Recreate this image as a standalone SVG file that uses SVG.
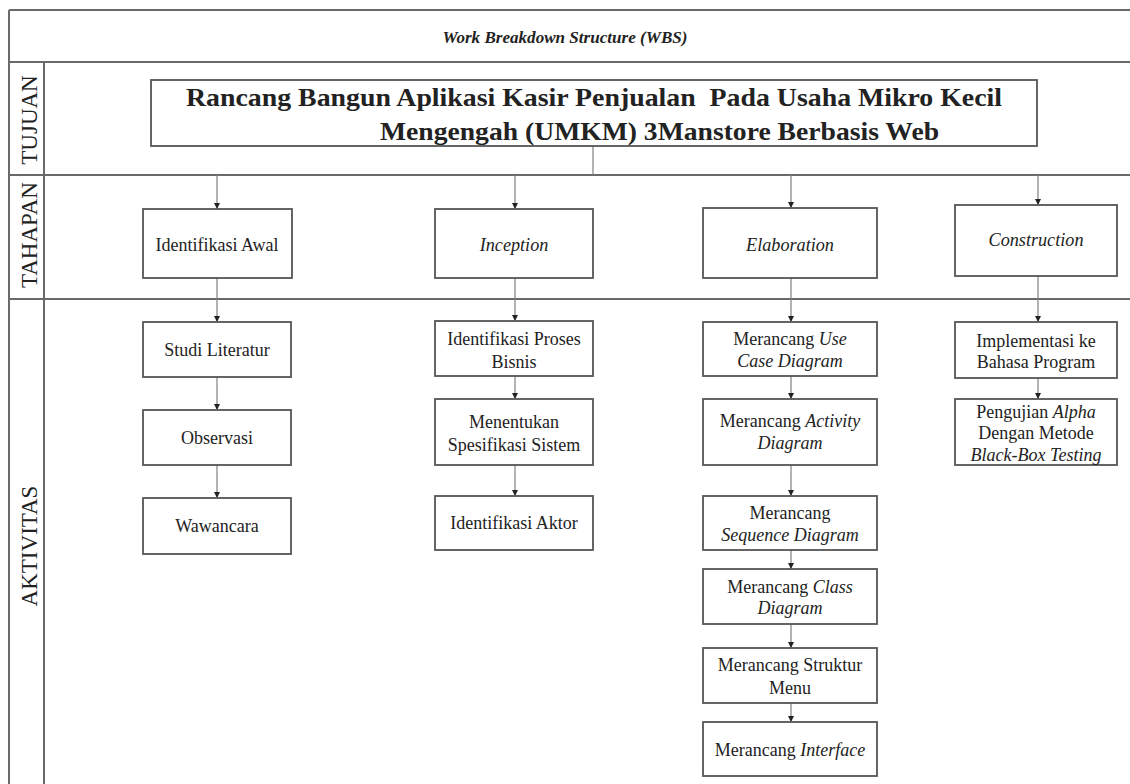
<svg xmlns="http://www.w3.org/2000/svg" width="1130" height="784" viewBox="0 0 1130 784">
<defs>
<marker id="ah" viewBox="0 0 10 10" refX="10" refY="5" markerWidth="6" markerHeight="6" markerUnits="userSpaceOnUse" orient="auto">
<path d="M0,0 L10,5 L0,10 z" fill="#222"/>
</marker>
<style>
.frame{stroke:#6a6a6a;stroke-width:2;fill:none}
.box{fill:#fff;stroke:#555;stroke-width:1.8}
.con{stroke:#808080;stroke-width:1.2;fill:none}
.arr{stroke:#808080;stroke-width:1.2;fill:none;marker-end:url(#ah)}
text{font-family:"Liberation Serif","Times New Roman",serif;fill:#222}
.lbl{font-size:18px;text-anchor:middle}
.ph{font-size:18.2px;text-anchor:middle;font-style:italic}
.lane{font-size:23px;text-anchor:middle}
.it{font-style:italic}
</style>
</defs>
<rect width="1130" height="784" fill="#fff"/>
<g id="frame">
<line class="frame" x1="9" y1="10" x2="1130" y2="10"/>
<line class="frame" x1="9" y1="10" x2="9" y2="784"/>
<line class="frame" x1="9" y1="62" x2="1130" y2="62"/>
<line class="frame" x1="9" y1="175" x2="1130" y2="175"/>
<line class="frame" x1="9" y1="299" x2="1130" y2="299"/>
<line class="frame" x1="44" y1="62" x2="44" y2="784"/>
<text x="565" y="43" text-anchor="middle" font-size="16" font-weight="bold" font-style="italic" textLength="245" lengthAdjust="spacingAndGlyphs">Work Breakdown Structure (WBS)</text>
<text class="lane" transform="translate(36.5,120) rotate(-90)">TUJUAN</text>
<text class="lane" transform="translate(36.5,235) rotate(-90)">TAHAPAN</text>
<text class="lane" transform="translate(36.5,546) rotate(-90)">AKTIVITAS</text>
</g>
<g id="connectors">
<line class="con" x1="593" y1="146" x2="593" y2="175"/>
<line class="arr" x1="217" y1="175" x2="217" y2="209"/>
<line class="arr" x1="515" y1="175" x2="515" y2="209"/>
<line class="arr" x1="791" y1="175" x2="791" y2="208"/>
<line class="arr" x1="1038" y1="175" x2="1038" y2="205"/>
<line class="arr" x1="217" y1="278" x2="217" y2="322"/>
<line class="arr" x1="217" y1="377" x2="217" y2="410"/>
<line class="arr" x1="217" y1="465" x2="217" y2="498"/>
<line class="arr" x1="515" y1="278" x2="515" y2="321"/>
<line class="arr" x1="515" y1="376" x2="515" y2="399"/>
<line class="arr" x1="515" y1="465" x2="515" y2="496"/>
<line class="arr" x1="791" y1="278" x2="791" y2="322"/>
<line class="arr" x1="791" y1="376" x2="791" y2="399"/>
<line class="arr" x1="791" y1="465" x2="791" y2="496"/>
<line class="arr" x1="791" y1="550" x2="791" y2="569"/>
<line class="arr" x1="791" y1="624" x2="791" y2="648"/>
<line class="arr" x1="791" y1="703" x2="791" y2="722"/>
<line class="arr" x1="1038" y1="276" x2="1038" y2="322"/>
<line class="arr" x1="1038" y1="378" x2="1038" y2="399"/>
</g>
<g id="goal">
<rect class="box" x="151" y="80" width="886" height="66"/>
<text x="186" y="106" font-size="25" font-weight="bold" textLength="816" lengthAdjust="spacingAndGlyphs" xml:space="preserve">Rancang Bangun Aplikasi Kasir Penjualan  Pada Usaha Mikro Kecil</text>
<text x="380" y="140" font-size="25" font-weight="bold" textLength="559" lengthAdjust="spacingAndGlyphs">Mengengah (UMKM) 3Manstore Berbasis Web</text>
</g>
<g id="ph-awal"><rect class="box" x="143" y="209" width="149" height="69"/><text class="lbl" x="217" y="251">Identifikasi Awal</text></g>
<g id="ph-inception"><rect class="box" x="435" y="209" width="158" height="69"/><text class="ph" x="514" y="251">Inception</text></g>
<g id="ph-elaboration"><rect class="box" x="703" y="208" width="174" height="70"/><text class="ph" x="790" y="251">Elaboration</text></g>
<g id="ph-construction"><rect class="box" x="955" y="205" width="162" height="71"/><text class="ph" x="1036" y="246" font-size="14.2">Construction</text></g>

<g id="a-studi"><rect class="box" x="143" y="322" width="148" height="55"/><text class="lbl" x="217" y="356">Studi Literatur</text></g>
<g id="a-observasi"><rect class="box" x="143" y="410" width="148" height="55"/><text class="lbl" x="217" y="444">Observasi</text></g>
<g id="a-wawancara"><rect class="box" x="143" y="498" width="148" height="56"/><text class="lbl" x="217" y="532">Wawancara</text></g>

<g id="a-proses"><rect class="box" x="435" y="321" width="158" height="55"/><text class="lbl" x="514" y="345">Identifikasi Proses</text><text class="lbl" x="514" y="368">Bisnis</text></g>
<g id="a-spesifikasi"><rect class="box" x="435" y="399" width="158" height="66"/><text class="lbl" x="514" y="428">Menentukan</text><text class="lbl" x="514" y="451">Spesifikasi Sistem</text></g>
<g id="a-aktor"><rect class="box" x="435" y="496" width="158" height="54"/><text class="lbl" x="514" y="529">Identifikasi Aktor</text></g>

<g id="a-usecase"><rect class="box" x="703" y="322" width="174" height="54"/><text class="lbl" x="790" y="345">Merancang <tspan class="it">Use</tspan></text><text class="lbl it" x="790" y="367">Case Diagram</text></g>
<g id="a-activity"><rect class="box" x="703" y="399" width="174" height="66"/><text class="lbl" x="790" y="427">Merancang <tspan class="it">Activity</tspan></text><text class="lbl it" x="790" y="449">Diagram</text></g>
<g id="a-sequence"><rect class="box" x="703" y="496" width="174" height="54"/><text class="lbl" x="790" y="519">Merancang</text><text class="lbl it" x="790" y="541">Sequence Diagram</text></g>
<g id="a-class"><rect class="box" x="703" y="569" width="174" height="55"/><text class="lbl" x="790" y="593">Merancang <tspan class="it">Class</tspan></text><text class="lbl it" x="790" y="614">Diagram</text></g>
<g id="a-struktur"><rect class="box" x="703" y="648" width="174" height="55"/><text class="lbl" x="790" y="671">Merancang Struktur</text><text class="lbl" x="790" y="694">Menu</text></g>
<g id="a-interface"><rect class="box" x="703" y="722" width="174" height="54"/><text class="lbl" x="790" y="756">Merancang <tspan class="it">Interface</tspan></text></g>

<g id="a-implementasi"><rect class="box" x="955" y="322" width="162" height="56"/><text class="lbl" x="1036" y="347">Implementasi ke</text><text class="lbl" x="1036" y="368">Bahasa Program</text></g>
<g id="a-pengujian"><rect class="box" x="955" y="399" width="162" height="66"/><text class="lbl" x="1036" y="418">Pengujian <tspan class="it">Alpha</tspan></text><text class="lbl" x="1036" y="439">Dengan Metode</text><text class="lbl it" x="1036" y="461">Black-Box Testing</text></g>
</svg>
